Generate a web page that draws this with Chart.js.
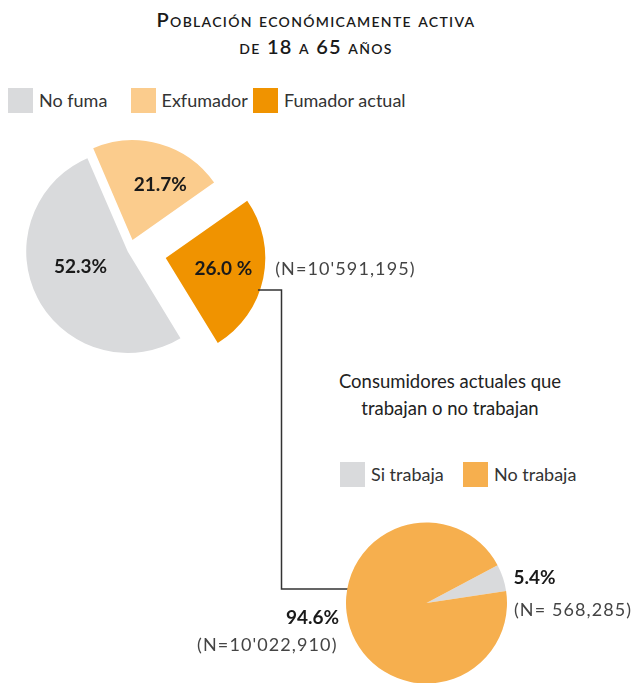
<!DOCTYPE html>
<html>
<head>
<meta charset="utf-8">
<script src="https://cdn.jsdelivr.net/npm/chart.js@4.4.1/dist/chart.umd.min.js"></script>
<style>
  html, body { margin: 0; padding: 0; background: #fff; }
  body { width: 632px; height: 683px; position: relative; overflow: hidden; font-family: Lato, sans-serif; color: #333; }
  canvas { position: absolute; left: 0; top: 0; }
  .title { position: absolute; left: 0; width: 632px; top: 6px; text-align: center; font-variant: small-caps;
           font-weight: 600; font-size: 20px; line-height: 27px; letter-spacing: 1.3px; color: #1a1a1a; }
  .sub { position: absolute; left: 300px; width: 300px; top: 368px; text-align: center; font-size: 18.5px; line-height: 27px; color: #222; }
  .legend { position: absolute; display: flex; font-size: 18px; color: #333; white-space: nowrap; }
  .legend .item { display: flex; align-items: center; flex: none; }
  .legend .box { width: 25px; height: 25px; margin-right: 6px; flex: none; }
</style>
</head>
<body>
<div class="title">Población económicamente activa<br>de 18 a 65 años</div>
<div class="legend" id="legTop" style="left:8px; top:87.5px;"></div>
<div class="sub">Consumidores actuales que<br>trabajan o no trabajan</div>
<div class="legend" id="legBottom" style="left:340px; top:461.5px;"></div>
<canvas id="topPie" width="632" height="683"></canvas>
<canvas id="bottomPie" width="632" height="683"></canvas>
<script>
// top pie: economically active population 18-65
const topLabels = ['No fuma', 'Exfumador', 'Fumador actual'];
const topValues = [52.3, 21.7, 26.0];
const topText = ['52.3%', '21.7%', '26.0 %'];
const topN = ["(N=10'591,195)"];

// bottom pie: current smokers who work / don't work
const bottomLabels = ['Si trabaja', 'No trabaja'];
const bottomValues = [5.4, 94.6];
const bottomText = ['5.4%', '94.6%'];
const bottomN = ['(N= 568,285)', "(N=10'022,910)"];

const topColors = ['#d9dadc', '#fbcc8d', '#f09300'];
const bottomColors = ['#d9dadc', '#f6af4e'];

const OFFSET_DIV = 4; // ArcElement draws options.offset / 4
const DEG = Math.PI / 180;

function buildLegend(id, labels, colors, itemW) {
  const el = document.getElementById(id);
  labels.forEach((l, i) => {
    const it = document.createElement('div');
    it.className = 'item';
    it.style.width = itemW + 'px';
    it.innerHTML = '<span class="box" style="background:' + colors[i] + '"></span><span>' + l + '</span>';
    el.appendChild(it);
  });
}
buildLegend('legTop', topLabels, topColors, 122.5);
buildLegend('legBottom', bottomLabels, bottomColors, 123);

function arcGeom(arc) {
  const p = arc.getProps(['x', 'y', 'startAngle', 'endAngle', 'outerRadius'], true);
  const mid = (p.startAngle + p.endAngle) / 2;
  const sh = (arc.options.offset || 0) / OFFSET_DIV;
  return { cx: p.x + Math.cos(mid) * sh, cy: p.y + Math.sin(mid) * sh, r: p.outerRadius, mid: mid };
}

const boldFont = '700 19px Lato';
const nFont = '400 18px Lato';

// labels drawn from the arc geometry
const pieLabels = {
  id: 'pieLabels',
  afterDatasetsDraw(chart, args, opts) {
    const ctx = chart.ctx;
    const arcs = chart.getDatasetMeta(0).data;
    ctx.save();
    ctx.textBaseline = 'middle';
    (opts.inner || []).forEach((c, i) => {
      if (!c) return;
      const g = arcGeom(arcs[i]);
      const a = g.mid + c.da * DEG;
      ctx.font = boldFont;
      ctx.fillStyle = '#1a1a1a';
      ctx.textAlign = 'center';
      ctx.fillText(opts.text[i], g.cx + Math.cos(a) * g.r * c.k, g.cy + Math.sin(a) * g.r * c.k);
    });
    (opts.outer || []).forEach(c => {
      const g = arcGeom(arcs[c.index]);
      const ax = g.cx + Math.cos(g.mid) * g.r;
      const ay = g.cy + Math.sin(g.mid) * g.r;
      ctx.textAlign = c.align;
      if (c.text) {
        ctx.font = boldFont;
        ctx.fillStyle = '#1a1a1a';
        ctx.letterSpacing = '0px';
        ctx.fillText(c.text, ax + c.dx, ay + c.dy);
      }
      if (c.n) {
        ctx.font = nFont;
        ctx.fillStyle = '#444';
        ctx.letterSpacing = '1.1px';
        ctx.fillText(c.n, ax + c.ndx, ay + c.ndy);
        ctx.letterSpacing = '0px';
      }
    });
    ctx.restore();
  }
};

const topChart = new Chart('topPie', {
  type: 'pie',
  data: {
    labels: topLabels,
    datasets: [{
      data: topValues,
      backgroundColor: topColors,
      borderWidth: 0,
      offset: [8, 44, 148],
      hoverOffset: 0,
      radius: 99.5,
      clip: false
    }]
  },
  options: {
    responsive: false,
    animation: false,
    events: [],
    devicePixelRatio: 1,
    rotation: 148.5,
    layout: { padding: { left: 0, top: 0, right: 373, bottom: 182 } },
    plugins: {
      legend: { display: false },
      tooltip: { enabled: false },
      pieLabels: {
        text: topText,
        inner: [{ k: 0.5, da: 9 }, { k: 0.62, da: 11 }, { k: 0.59, da: -1 }],
        outer: [{ index: 2, align: 'left', n: topN[0], ndx: 12, ndy: -9 }]
      }
    }
  },
  plugins: [pieLabels]
});

// elbow connector from the current-smoker slice to the lower pie
const connector = {
  id: 'connector',
  beforeDatasetsDraw(chart) {
    const ctx = chart.ctx;
    const dark = arcGeom(topChart.getDatasetMeta(0).data[2]);
    const low = arcGeom(chart.getDatasetMeta(0).data[1]);
    const topY = 290, elbowX = 281.5, botY = low.cy - 14;
    const x0 = dark.cx + Math.sqrt(dark.r * dark.r - (topY - dark.cy) * (topY - dark.cy));
    const x1 = low.cx - Math.sqrt(low.r * low.r - (botY - low.cy) * (botY - low.cy));
    ctx.save();
    ctx.strokeStyle = '#333';
    ctx.lineWidth = 1.5;
    ctx.beginPath();
    ctx.moveTo(x0 - 2, topY);
    ctx.lineTo(elbowX, topY);
    ctx.lineTo(elbowX, botY);
    ctx.lineTo(x1 + 2, botY);
    ctx.stroke();
    ctx.restore();
  }
};

new Chart('bottomPie', {
  type: 'pie',
  data: {
    labels: bottomLabels,
    datasets: [{
      data: bottomValues,
      backgroundColor: bottomColors,
      borderWidth: 0,
      hoverOffset: 0,
      radius: 80.5,
      clip: false
    }]
  },
  options: {
    responsive: false,
    animation: false,
    events: [],
    devicePixelRatio: 1,
    rotation: 62,
    layout: { padding: { left: 221, top: 523, right: 0, bottom: 0 } },
    plugins: {
      legend: { display: false },
      tooltip: { enabled: false },
      pieLabels: {
        text: bottomText,
        outer: [
          { index: 0, align: 'left', text: bottomText[0], dx: 10.5, dy: 0, n: bottomN[0], ndx: 11, ndy: 32 },
          { index: 1, align: 'right', text: bottomText[1], dx: -11, dy: -10, n: bottomN[1], ndx: -12.5, ndy: 17 }
        ]
      }
    }
  },
  plugins: [connector, pieLabels]
});
</script>
</body>
</html>
